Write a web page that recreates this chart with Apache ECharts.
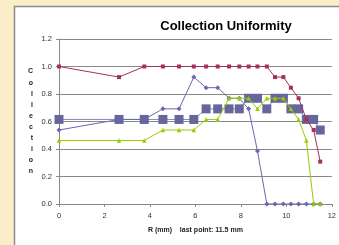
<!DOCTYPE html>
<html><head><meta charset="utf-8">
<script src="https://cdn.jsdelivr.net/npm/echarts@6/dist/echarts.min.js"></script>
<style>html,body{margin:0;padding:0;background:#fcedc9;}#c{width:339px;height:245px;}</style>
</head><body><div id="c"></div>
<script>
const xValues = [0, 2.64, 3.75, 4.57, 5.28, 5.93, 6.47, 6.98, 7.48, 7.93, 8.34, 8.73, 9.14, 9.5, 9.87, 10.2, 10.54, 10.88, 11.2, 11.49];
const redValues = [1.0, 0.923, 1.0, 1.0, 1.0, 1.0, 1.0, 1.0, 1.0, 1.0, 1.0, 1.0, 1.0, 0.923, 0.923, 0.846, 0.769, 0.615, 0.538, 0.308];
const blueValues = [0.538, 0.615, 0.615, 0.692, 0.692, 0.923, 0.846, 0.846, 0.769, 0.769, 0.692, 0.385, 0, 0, 0, 0, 0, 0, 0, 0];
const greenValues = [0.462, 0.462, 0.462, 0.538, 0.538, 0.538, 0.615, 0.615, 0.769, 0.769, 0.769, 0.692, 0.769, 0.769, 0.769, 0.692, 0.615, 0.462, 0, 0];
const squareValues = [0.615, 0.615, 0.615, 0.615, 0.615, 0.615, 0.692, 0.692, 0.692, 0.692, 0.769, 0.769, 0.692, 0.769, 0.769, 0.692, 0.692, 0.615, 0.615, 0.538];
const titleText = 'Collection Uniformity';
const yName = 'Collection';
const xName = 'R (mm)    last point: 11.5 mm';

const pts = v => xValues.map((x, i) => [x, v[i]]);
const chart = echarts.init(document.getElementById('c'), null, {renderer: 'canvas'});
chart.setOption({
  animation: false,
  backgroundColor: '#fcedc9',
  graphic: [{type: 'rect', shape: {x: 14.5, y: 6.5, width: 340, height: 250}, style: {fill: '#fff', stroke: '#8a8a8a', lineWidth: 1.5}, z: -10}],
  title: {text: titleText, left: 221, top: 15, textAlign: 'center',
    textStyle: {fontFamily: 'Liberation Sans', fontWeight: 'bold', fontSize: 13, color: '#000'}},
  grid: {left: 59, right: 6, top: 39, bottom: 41},
  xAxis: {type: 'value', min: 0, max: 12, interval: 2,
    name: xName, nameLocation: 'middle', nameGap: 23,
    nameTextStyle: {fontFamily: 'Liberation Sans', fontWeight: 'bold', fontSize: 7, color: '#222'},
    axisLine: {show: true, lineStyle: {color: '#888', width: 1}},
    axisTick: {show: true, length: 3, lineStyle: {color: '#888'}},
    axisLabel: {fontFamily: 'Liberation Sans', fontSize: 7.5, color: '#333', margin: 8},
    splitLine: {show: false}},
  yAxis: {type: 'value', min: 0, max: 1.2, interval: 0.2,
    name: yName.split('').join('\n'), nameLocation: 'middle', nameRotate: 0, nameGap: 26,
    nameTextStyle: {fontFamily: 'Liberation Sans', fontWeight: 'bold', fontSize: 7, color: '#222', lineHeight: 11.1, padding: [0, 0, 10, 0]},
    axisLine: {show: true, lineStyle: {color: '#888', width: 1}},
    axisTick: {show: true, length: 3, lineStyle: {color: '#888'}},
    axisLabel: {fontFamily: 'Liberation Sans', fontSize: 7.5, color: '#333', margin: 7, formatter: v => v.toFixed(1)},
    splitLine: {show: true, lineStyle: {color: '#888', width: 1}}},
  series: [
    {type: 'line', data: pts(squareValues), symbol: 'rect', symbolSize: 9,
      itemStyle: {color: '#66669c'}, lineStyle: {color: '#8888b8', width: 1}, z: 2},
    {type: 'line', data: pts(blueValues), symbol: 'diamond', symbolSize: 5,
      itemStyle: {color: '#6868ac'}, lineStyle: {color: '#6868ac', width: 1}, z: 3},
    {type: 'line', data: pts(redValues), symbol: 'rect', symbolSize: 4,
      itemStyle: {color: '#a3305e'}, lineStyle: {color: '#a3305e', width: 1}, z: 4},
    {type: 'line', data: pts(greenValues), symbol: 'triangle', symbolSize: 4.5,
      itemStyle: {color: '#99cc00'}, lineStyle: {color: '#99cc00', width: 1}, z: 5}
  ]
});
</script></body></html>
